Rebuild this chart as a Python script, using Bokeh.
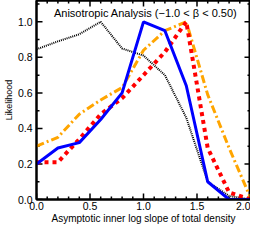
import math
from bokeh.plotting import figure
from bokeh.models import Range1d, LinearAxis, FixedTicker, NumeralTickFormatter
from bokeh.core.properties import value
from bokeh.embed import file_html
from bokeh.resources import INLINE

slope = [0.0, 0.2, 0.4, 0.6, 0.8, 1.0, 1.2, 1.4, 1.6, 1.8, 2.0]
blue_solid = [0.20, 0.29, 0.32, 0.45, 0.60, 1.00, 0.95, 0.64, 0.10, 0.00, 0.00]
red_dashed = [0.21, 0.21, 0.34, 0.48, 0.57, 0.70, 0.83, 1.00, 0.29, 0.04, 0.00]
orange_dashdot = [0.30, 0.35, 0.48, 0.56, 0.63, 0.84, 0.95, 1.00, 0.59, 0.29, 0.01]
black_dotted = [0.845, 0.89, 0.93, 1.00, 0.85, 0.81, 0.70, 0.46, 0.10, 0.02, 0.00]

x_ticks = [0.0, 0.5, 1.0, 1.5, 2.0]
y_ticks = [0.0, 0.2, 0.4, 0.6, 0.8, 1.0]
x_minor = [0.1, 0.2, 0.3, 0.4, 0.6, 0.7, 0.8, 0.9, 1.1, 1.2, 1.3, 1.4, 1.6, 1.7, 1.8, 1.9]
y_minor = [0.1, 0.3, 0.5, 0.7, 0.9, 1.1]
title_text = "Anisotropic Analysis (\u22121.0 < \u03b2 < 0.50)"

FONT = "Liberation Sans"
X0, X1 = 0.0, 2.0
Y0, Y1 = 0.0, 1.12

p = figure(width=250, height=226, output_backend="svg", toolbar_location=None,
           x_range=Range1d(X0, X1), y_range=Range1d(Y0, Y1),
           min_border_left=25, min_border_right=0, min_border_top=0,
           min_border_bottom=0, x_axis_label="Asymptotic inner log slope of total density",
           y_axis_label="Likelihood")
p.grid.visible = False
p.outline_line_color = "black"
p.outline_line_width = 2
p.background_fill_color = "white"
p.border_fill_color = "white"

def style_axis(ax):
    ax.axis_line_color = "black"
    ax.axis_line_width = 2
    ax.major_tick_in = 0
    ax.major_tick_out = 0
    ax.minor_tick_in = 0
    ax.minor_tick_out = 0
    ax.major_label_text_font = FONT
    ax.major_label_text_font_size = "10.5px"
    ax.major_label_text_color = "black"
    ax.axis_label_text_font = FONT
    ax.axis_label_text_font_style = "normal"
    ax.axis_label_text_color = "black"
    ax.formatter = NumeralTickFormatter(format="0.0")

xa = p.xaxis[0]
xa.ticker = FixedTicker(ticks=x_ticks)
style_axis(xa)
xa.axis_label_text_font_size = "10px"
xa.axis_label_standoff = 0
xa.major_label_standoff = 2

ya = p.yaxis[0]
ya.ticker = FixedTicker(ticks=y_ticks)
style_axis(ya)
ya.axis_label_text_font_size = "9px"
ya.axis_label_standoff = 1
ya.major_label_standoff = 4

top = LinearAxis(ticker=FixedTicker(ticks=x_ticks))
style_axis(top)
top.major_label_text_font_size = "0px"
top.major_label_standoff = 0
top.major_label_text_alpha = 0
p.add_layout(top, "above")

right = LinearAxis(ticker=FixedTicker(ticks=y_ticks))
style_axis(right)
right.major_label_text_font_size = "0px"
right.major_label_standoff = 0
right.major_label_text_alpha = 0
p.add_layout(right, "right")

# inward tick marks: dash markers centred on the frame edges (outer half clipped)
def ticks_x(vals, size):
    p.scatter(vals, [Y0] * len(vals), marker="dash", size=size, angle=math.pi / 2,
              line_color="black", line_width=1.5)
    p.scatter(vals, [Y1] * len(vals), marker="dash", size=size, angle=math.pi / 2,
              line_color="black", line_width=1.5)

def ticks_y(vals, size):
    p.scatter([X0] * len(vals), vals, marker="dash", size=size,
              line_color="black", line_width=1.5)
    p.scatter([X1] * len(vals), vals, marker="dash", size=size,
              line_color="black", line_width=1.5)

ticks_x(x_ticks, 12)
ticks_x(x_minor, 6)
ticks_y(y_ticks, 12)
ticks_y(y_minor, 6)

p.line(slope, black_dotted, line_color="black", line_width=2, line_dash="1 1")
p.line(slope, orange_dashdot, line_color="#FFA500", line_width=3, line_dash="8 3 2 3")
p.line(slope, red_dashed, line_color="#FF0000", line_width=4, line_dash="4 4")
p.line(slope, blue_solid, line_color="#0000FF", line_width=3)

p.text(x=[1.02], y=[1.05], text=[title_text], text_font=value(FONT),
       text_font_size="11px", text_align="center", text_baseline="middle",
       text_color="black")

open("out.html", "w").write(file_html(p, INLINE))
